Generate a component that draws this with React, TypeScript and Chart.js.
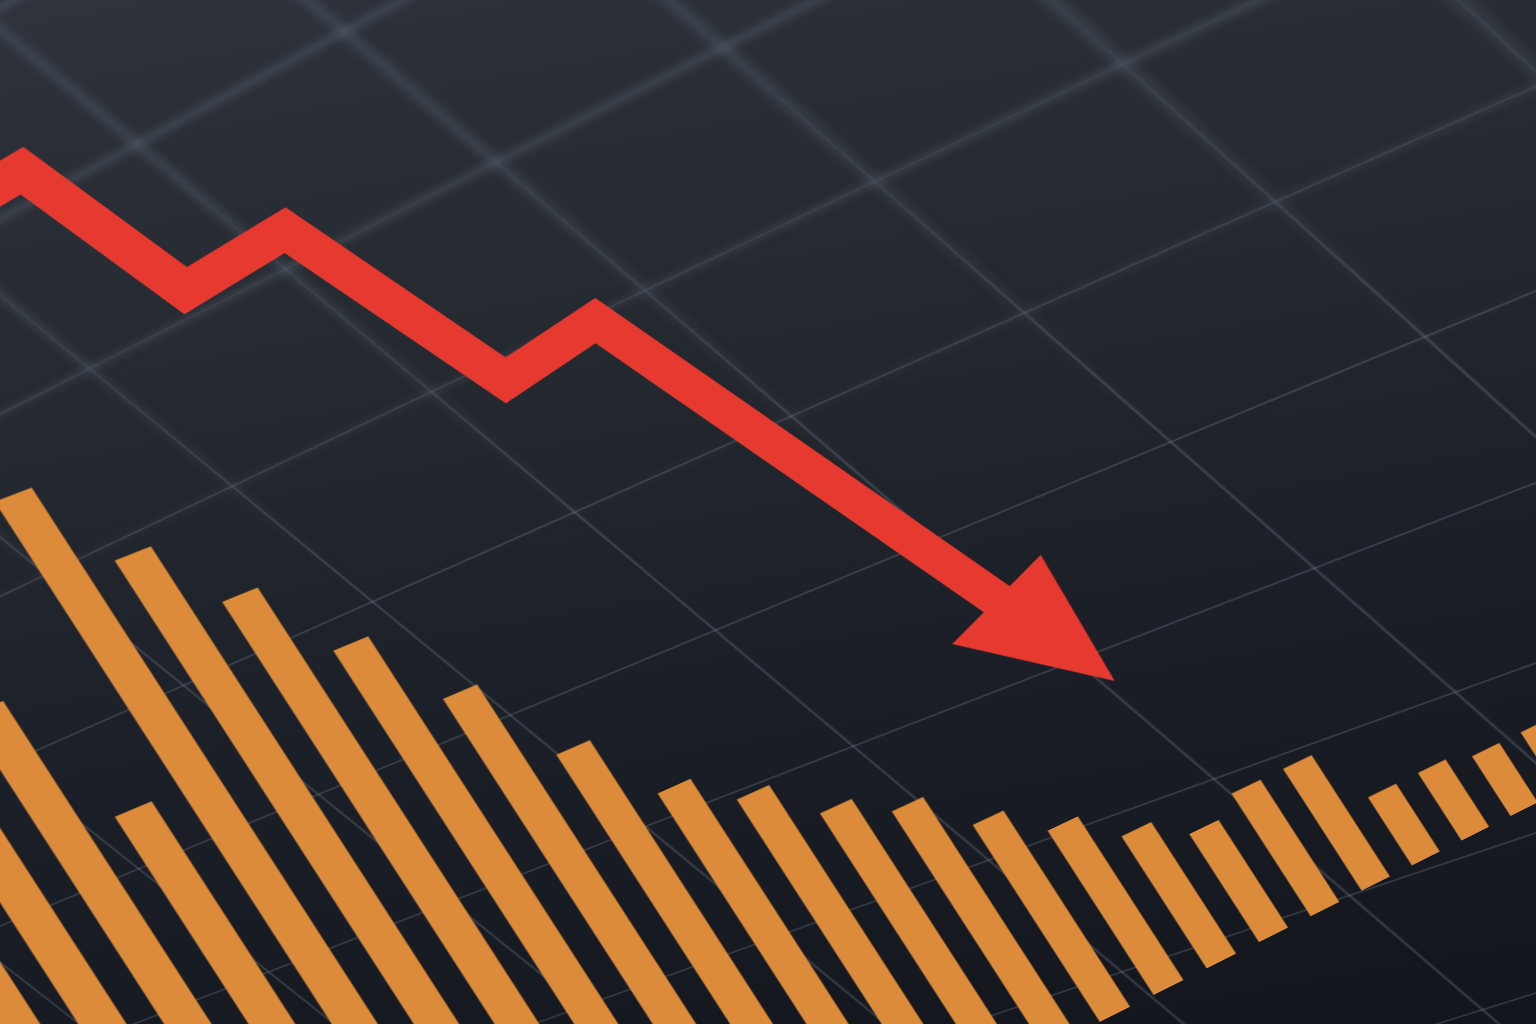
import { useEffect, useRef } from 'react';
import { Chart, registerables } from 'chart.js';

Chart.register(...registerables);

// ---------------- data ----------------
const periods = [1, 2, 3, 4, 5, 6, 7, 8, 9, 10, 11, 12, 13, 14, 15, 16, 17, 18, 19, 20, 21, 22, 23, 24];
const volume = [68, 72, 77, 62, 96, 86, 78, 69, 60, 50, 42, 38, 33, 30, 25, 21, 17, 14, 16, 16, 9, 9, 8, 8];
const trendX = [6.0, 7.7, 8.8, 10.6, 12.25, 14.0, 17.6];
const trendY = [124.7, 127.1, 109.5, 111.9, 88.6, 91.1, 39.5];

// background grid range (grid units)
const gridColsRange = [-6, 9];
const gridRowsRange = [-5, 11];

// ---------------- styles ----------------
const RED = '#e6392f';
const ORANGE = '#dc8b3a';
const GRID = 'rgba(120,130,146,0.36)';
const GRID_SOFT = 'rgba(135,145,160,0.32)';

// ---------------- camera / view (perspective) ----------------
// grid anchors: [col, row, screenX, screenY]
const gridAnchors: [number, number, number, number][] = [
  [0, 0, 855, 749], [0, 1, 712, 629], [0, 2, 579, 512], [-1, 2, 367, 595],
  [-1, 3, 233, 477], [-1, 4, 97, 357], [1, 2, 788, 430], [2, 2, 1011, 343],
  [3, 2, 1308, 221], [1, 0, 1066, 655], [2, 0, 1298, 554], [2, -1, 1441, 659],
  [0, -1, 1029, 897], [3, 1, 1454, 317], [2, 1, 1147, 443],
];
const VIEW = {
  origin: [573, 1286],
  vanish: [9000, -2940],
  depth: 0.00707,
  up: [-0.542, -0.84],
  kScale: 1.034,
  kShift: -5.79,
  vScale: 10,
};

type M3 = number[][];
const mul = (A: M3, B: M3): M3 =>
  A.map((row) => [0, 1, 2].map((j) => row[0] * B[0][j] + row[1] * B[1][j] + row[2] * B[2][j]));

function toMatrix3d(h: M3) {
  const n = h[2][2];
  const f = (v: number) => (v / n).toFixed(9);
  return `matrix3d(${f(h[0][0])},${f(h[1][0])},0,${f(h[2][0])},${f(h[0][1])},${f(h[1][1])},0,${f(h[2][1])},0,0,1,0,${f(h[0][2])},${f(h[1][2])},0,1)`;
}

function pixelToValue(chart: Chart): M3 {
  const xs: any = chart.scales.x;
  const ys: any = chart.scales.y;
  const x0 = xs.getPixelForValue(0), x1 = xs.getPixelForValue(1);
  const y0 = ys.getPixelForValue(0), y1 = ys.getPixelForValue(1);
  const ax = x1 - x0, ay = y1 - y0;
  return [[1 / ax, 0, -x0 / ax], [0, 1 / ay, -y0 / ay], [0, 0, 1]];
}

function solveLinear(A: number[][], b: number[]): number[] {
  const n = b.length;
  const M = A.map((row, i) => [...row, b[i]]);
  for (let c = 0; c < n; c++) {
    let piv = c;
    for (let r = c + 1; r < n; r++) if (Math.abs(M[r][c]) > Math.abs(M[piv][c])) piv = r;
    const tmp = M[c]; M[c] = M[piv]; M[piv] = tmp;
    for (let r = 0; r < n; r++) {
      if (r === c) continue;
      const f = M[r][c] / M[c][c];
      for (let k = c; k <= n; k++) M[r][k] -= f * M[c][k];
    }
  }
  return M.map((row, i) => row[n] / row[i]);
}

function fitHomography(pairs: [number, number, number, number][]): M3 {
  const S = 1000;
  const rows: number[][] = [];
  const rhs: number[] = [];
  for (const [u, v, X, Y] of pairs) {
    const x = X / S, y = Y / S;
    rows.push([u, v, 1, 0, 0, 0, -u * x, -v * x]); rhs.push(x);
    rows.push([0, 0, 0, u, v, 1, -u * y, -v * y]); rhs.push(y);
  }
  const AtA = Array.from({ length: 8 }, () => new Array(8).fill(0));
  const Atb = new Array(8).fill(0);
  rows.forEach((r, k) => {
    for (let i = 0; i < 8; i++) {
      Atb[i] += r[i] * rhs[k];
      for (let j = 0; j < 8; j++) AtA[i][j] += r[i] * r[j];
    }
  });
  const h = solveLinear(AtA, Atb);
  return [[h[0] * S, h[1] * S, h[2] * S], [h[3] * S, h[4] * S, h[5] * S], [h[6], h[7], 1]];
}

function makeGridChart(canvas: HTMLCanvasElement, color: string, lineWidth: number) {
  const gridAxis = (min: number, max: number) => ({
    type: 'linear' as const,
    min,
    max,
    display: true,
    ticks: { display: false, stepSize: 1 },
    grid: { color, lineWidth, drawTicks: false },
    border: { display: false },
  });
  return new Chart(canvas, {
    type: 'line',
    data: { datasets: [] },
    options: {
      responsive: false,
      animation: false,
      events: [],
      layout: { padding: 0 },
      plugins: { legend: { display: false }, tooltip: { enabled: false } },
      scales: {
        x: gridAxis(gridColsRange[0], gridColsRange[1]),
        y: gridAxis(gridRowsRange[0], gridRowsRange[1]),
      },
    },
  });
}

export default function App() {
  const gridSoftRef = useRef<HTMLCanvasElement>(null);
  const gridRef = useRef<HTMLCanvasElement>(null);
  const dataRef = useRef<HTMLCanvasElement>(null);

  useEffect(() => {
    if (!gridRef.current || !dataRef.current || !gridSoftRef.current) return;

    // ---------- background grid charts (sharp near, soft far) ----------
    const HA = fitHomography(gridAnchors);
    const gridSoft = makeGridChart(gridSoftRef.current, GRID_SOFT, 3.2);
    gridSoftRef.current.style.transform = toMatrix3d(mul(HA, pixelToValue(gridSoft)));
    const gridChart = makeGridChart(gridRef.current, GRID, 1.1);
    gridRef.current.style.transform = toMatrix3d(mul(HA, pixelToValue(gridChart)));

    // ---------- arrow head ----------
    const head = document.createElement('canvas');
    head.width = 150;
    head.height = 165;
    const g = head.getContext('2d')!;
    g.fillStyle = RED;
    g.beginPath();
    g.moveTo(75, 0);
    g.lineTo(150, 165);
    g.lineTo(0, 165);
    g.closePath();
    g.fill();

    const last = trendX.length - 1;

    // ---------- data chart ----------
    const dataChart = new Chart(dataRef.current, {
      type: 'bar',
      data: {
        datasets: [
          {
            type: 'line',
            label: 'Trend',
            data: trendX.map((x, i) => ({ x, y: trendY[i] })),
            borderColor: RED,
            backgroundColor: RED,
            borderWidth: 44,
            borderJoinStyle: 'miter',
            borderCapStyle: 'butt',
            tension: 0,
            fill: false,
            order: 0,
            pointRadius: (ctx: any) => (ctx.dataIndex === last ? 10 : 0),
            pointHoverRadius: 0,
            pointBorderWidth: 0,
            pointBackgroundColor: RED,
            pointStyle: (ctx: any) => (ctx.dataIndex === last ? head : 'circle'),
            pointRotation: (ctx: any) => {
              const i = ctx.dataIndex;
              if (i === 0) return 0;
              const xs: any = ctx.chart.scales.x;
              const ys: any = ctx.chart.scales.y;
              const dx = xs.getPixelForValue(trendX[i]) - xs.getPixelForValue(trendX[i - 1]);
              const dy = ys.getPixelForValue(trendY[i]) - ys.getPixelForValue(trendY[i - 1]);
              return (Math.atan2(dx, -dy) * 180) / Math.PI;
            },
          } as any,
          {
            type: 'bar',
            label: 'Volume',
            data: periods.map((p, i) => ({ x: p, y: volume[i] })),
            backgroundColor: ORANGE,
            borderWidth: 0,
            barPercentage: 0.56,
            categoryPercentage: 1,
            order: 1,
          } as any,
        ],
      },
      options: {
        responsive: false,
        animation: false,
        events: [],
        layout: { padding: 0 },
        plugins: { legend: { display: false }, tooltip: { enabled: false } },
        scales: {
          x: { type: 'linear', min: 0, max: 25, display: false },
          y: { type: 'linear', min: 0, max: 140, display: false },
        },
      },
    });
    const HB: M3 = [
      [VIEW.depth * VIEW.vanish[0], VIEW.up[0], VIEW.origin[0]],
      [VIEW.depth * VIEW.vanish[1], VIEW.up[1], VIEW.origin[1]],
      [VIEW.depth, 0, 1],
    ];
    const Mv: M3 = [[VIEW.kScale, 0, VIEW.kShift], [0, VIEW.vScale, 0], [0, 0, 1]];
    dataRef.current.style.transform = toMatrix3d(mul(mul(HB, Mv), pixelToValue(dataChart)));

    return () => {
      gridSoft.destroy();
      gridChart.destroy();
      dataChart.destroy();
    };
  }, []);

  const canvasStyle: React.CSSProperties = {
    position: 'absolute',
    left: 0,
    top: 0,
    transformOrigin: '0 0 0',
  };
  const layer: React.CSSProperties = { position: 'absolute', inset: 0, overflow: 'hidden' };
  const softMask = 'linear-gradient(168deg, #000 0%, #000 18%, transparent 52%)';
  const sharpMask = 'linear-gradient(168deg, transparent 14%, #000 48%)';

  return (
    <div
      style={{
        position: 'fixed',
        inset: 0,
        overflow: 'hidden',
        background: 'linear-gradient(170deg, #2e333c 0%, #252930 32%, #1b1f27 62%, #12151c 100%)',
      }}
    >
      <div style={{ ...layer, maskImage: softMask, WebkitMaskImage: softMask }}>
        <canvas ref={gridSoftRef} width={1500} height={1600} style={{ ...canvasStyle, filter: 'blur(2px)' }} />
      </div>
      <div style={{ ...layer, maskImage: sharpMask, WebkitMaskImage: sharpMask }}>
        <canvas ref={gridRef} width={1500} height={1600} style={canvasStyle} />
      </div>
      <canvas ref={dataRef} width={2000} height={1600} style={canvasStyle} />
    </div>
  );
}
